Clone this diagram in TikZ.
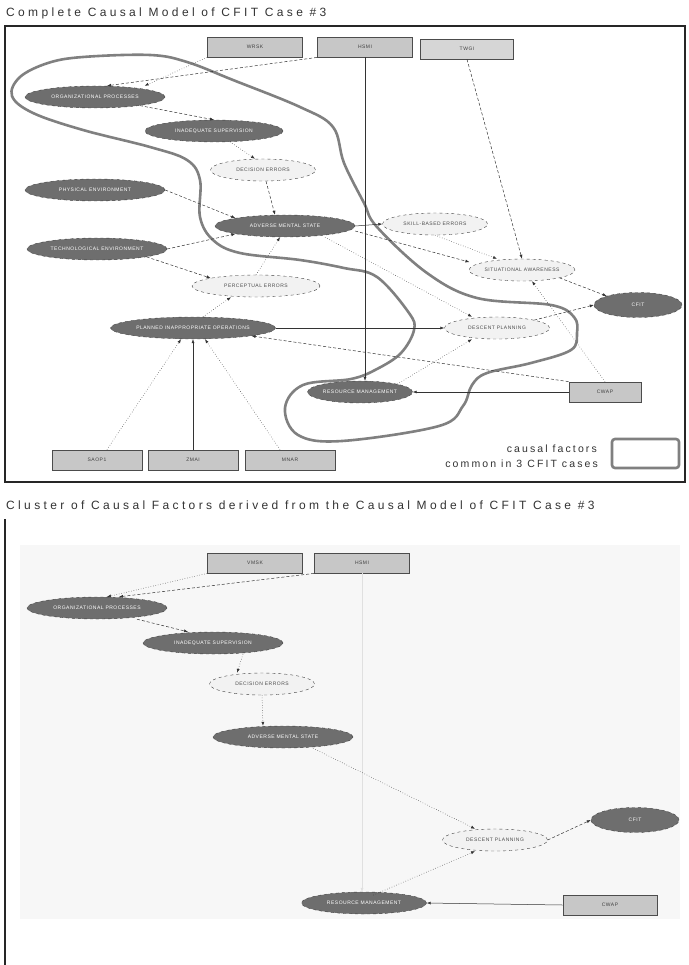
\documentclass[tikz,border=0pt]{standalone}
\usepackage{fontspec}
\setmainfont{Liberation Sans}
\usetikzlibrary{shapes.geometric,arrows.meta}
\begin{document}
\begin{tikzpicture}[x=1pt,y=-1pt,
  nf/.style={font=\fontsize{5}{6}\selectfont\addfontfeatures{LetterSpace=10}},
  dk/.style={ellipse,draw=black!75,dashed,fill=black!57,text=white,minimum height=22pt,inner sep=0pt,nf},
  lt/.style={ellipse,draw=black!75,dashed,fill=black!5,text=black!70,minimum height=22pt,inner sep=0pt,nf},
  bx/.style={rectangle,draw=black!70,line width=0.8pt,fill=black!22,minimum height=20pt,inner sep=0pt,text=black!75,nf},
  ar/.style={-{Latex[length=4pt,width=3pt]},draw=black!80,line width=0.5pt},
  dt/.style={ar,dotted},
  ds/.style={ar,dash pattern=on 3pt off 2pt},
  ttl/.style={anchor=west,inner sep=0pt,text=black!80,font=\fontsize{12}{14}\selectfont\addfontfeatures{LetterSpace=28}},
  lgd/.style={anchor=east,inner sep=0pt,text=black!80,font=\fontsize{10.5}{12}\selectfont\addfontfeatures{LetterSpace=20}}
]
\useasboundingbox (0,0) rectangle (688,965);
\fill[white] (0,0) rectangle (688,965);

% ---------- titles ----------
\node[ttl] (t1) at (6,13) {Complete Causal Model of CFIT Case \#3};
\node[ttl] (t2) at (6,505) {Cluster of Causal Factors derived from the Causal Model of CFIT Case \#3};

% ---------- top panel ----------
\draw[black!85,line width=1.2pt] (5,26) rectangle (685,482);

\node[bx,minimum width=95pt] (b1) at (255,47) {WRSK};
\node[bx,minimum width=95pt] (b2) at (365,47) {HSMI};
\node[bx,minimum width=93pt,fill=black!16] (b3) at (467,49) {TWGI};

\node[dk,minimum width=140pt] (n1) at (95,97) {ORGANIZATIONAL PROCESSES};
\node[dk,minimum width=138pt] (n2) at (214,131) {INADEQUATE SUPERVISION};
\node[lt,minimum width=105pt] (n3) at (263,170) {DECISION ERRORS};
\node[dk,minimum width=140pt] (n4) at (95,190) {PHYSICAL ENVIRONMENT};
\node[dk,minimum width=140pt] (n5) at (285,226) {ADVERSE MENTAL STATE};
\node[dk,minimum width=140pt] (n6) at (97,249) {TECHNOLOGICAL ENVIRONMENT};
\node[lt,minimum width=128pt] (n7) at (256,286) {PERCEPTUAL ERRORS};
\node[dk,minimum width=165pt] (n8) at (193,328) {PLANNED INAPPROPRIATE OPERATIONS};
\node[lt,minimum width=105pt] (n9) at (435,224) {SKILL-BASED ERRORS};
\node[lt,minimum width=105pt] (n10) at (522,270) {SITUATIONAL AWARENESS};
\node[dk,minimum width=88pt,minimum height=25pt] (n11) at (638,305) {CFIT};
\node[lt,minimum width=105pt] (n12) at (497,328) {DESCENT PLANNING};
\node[dk,minimum width=105pt] (n13) at (360,392) {RESOURCE MANAGEMENT};
\node[bx,minimum width=72pt] (b4) at (605,392) {CWAP};
\node[bx,minimum width=90pt] (b5) at (97,460) {SAOP1};
\node[bx,minimum width=90pt] (b6) at (193,460) {ZMAI};
\node[bx,minimum width=90pt] (b7) at (290,460) {MNAR};

% cluster outline
\draw[black!50,line width=2.6pt,line join=round] plot[smooth cycle,tension=0.6] coordinates {
 (344,163) (364,203) (377,227) (427,273) (477,298) (551,305) (574,317) (577,333)
 (571,350) (531,363) (487,373) (472,385) (463,406) (439,426) (342,441) (298,435)
 (285,408) (303,385) (351,379) (377,369) (401,353) (414,330) (409,313) (377,277)
 (344,268) (300,260) (240,253) (213,240) (200,217) (200,180) (187,160) (150,147)
 (83,130) (33,113) (12,96) (20,77) (48,63) (83,57) (150,55) (187,62) (233,80)
 (300,107) (333,127)};

% connectors
\draw[dt] (b1.south west) -- (n1.north east |- n1.north);
\draw[ds] (b2.south west) -- ([xshift=12pt]n1.north);
\draw[ar] (b2.south) -- (n13.north -| b2.south);
\draw[ds] (b3.south) -- (n10.north);
\draw[ds] (n1) -- (n2.north);
\draw[dt] (n2) -- ([xshift=-8pt]n3.north);
\draw[ds] (n3) -- ([xshift=-10pt]n5.north);
\draw[ds] (n4.east) -- (n5.north west);
\draw[ds] (n6.east) -- (n5.south west);
\draw[ds] (n6.south east) -- (n7.north west);
\draw[dt] (n7.north) -- ([xshift=-5pt]n5.south);
\draw[dt] ([xshift=10pt]n8.north) -- ([xshift=-25pt]n7.south);
\draw[ar] (n5.east) -- (n9.west);
\draw[ds] ([yshift=-5pt]n5.east) -- ([xshift=-15pt]n10.north west);
\draw[dt] (n9.south) -- ([xshift=-25pt]n10.north);
\draw[dt] ([xshift=40pt]n5.south) -- ([xshift=-25pt]n12.north);
\draw[ar] (n8.east) -- (n12.west);
\draw[ds] (n10.south east) -- (n11.north west);
\draw[ds] (n12.north east) -- (n11.west);
\draw[dt] (b4.north) -- ([xshift=10pt]n10.south);
\draw[ds] (b4.north west) -- (n8.south east);
\draw[ar] (b4.west) -- (n13.east);
\draw[dt] (n13.north east) -- ([xshift=-25pt]n12.south);
\draw[dt] ([xshift=10pt]b5.north) -- ([xshift=-12pt]n8.south);
\draw[ar] (b6.north) -- (n8.south);
\draw[dt] ([xshift=-10pt]b7.north) -- ([xshift=12pt]n8.south);

% legend
\node[lgd] (l1) at (597,449) {causal factors};
\node[lgd] (l2) at (598,464) {common in 3 CFIT cases};
\draw[black!50,line width=2.6pt,rounded corners=3pt] (612,439) rectangle (679,468);

% ---------- bottom panel ----------
\draw[black!85,line width=1.2pt] (5,519) -- (5,965);
\fill[black!3] (20,545) rectangle (680,919);

\node[bx,minimum width=95pt] (c1) at (255,563) {VMSK};
\node[bx,minimum width=95pt] (c2) at (362,563) {HSMI};
\node[dk,minimum width=140pt] (m1) at (97,608) {ORGANIZATIONAL PROCESSES};
\node[dk,minimum width=140pt] (m2) at (213,643) {INADEQUATE SUPERVISION};
\node[lt,minimum width=105pt] (m3) at (262,684) {DECISION ERRORS};
\node[dk,minimum width=140pt] (m5) at (283,737) {ADVERSE MENTAL STATE};
\node[lt,minimum width=105pt] (m12) at (495,840) {DESCENT PLANNING};
\node[dk,minimum width=88pt,minimum height=25pt] (m11) at (635,820) {CFIT};
\node[dk,minimum width=125pt] (m13) at (364,903) {RESOURCE MANAGEMENT};
\node[bx,minimum width=94pt] (c4) at (610,905) {CWAP};

\draw[dt] (c1.south west) -- ([xshift=10pt]m1.north);
\draw[ds] (c2.south west) -- ([xshift=22pt]m1.north);
\draw[ar,black!12] (c2.south) -- (m13.north -| c2.south);
\draw[ds] ([xshift=40pt]m1.south) -- ([xshift=-25pt]m2.north);
\draw[dt] ([xshift=30pt]m2.south) -- ([xshift=-25pt]m3.north);
\draw[dt] (m3.south) -- ([xshift=-20pt]m5.north);
\draw[dt] ([xshift=30pt]m5.south) -- ([xshift=-20pt]m12.north);
\draw[ds] (m12.east) -- (m11.west);
\draw[dt] ([xshift=-35pt]m13.north east) -- ([xshift=-20pt]m12.south);
\draw[ar] (c4.west) -- (m13.east);
\end{tikzpicture}
\end{document}
